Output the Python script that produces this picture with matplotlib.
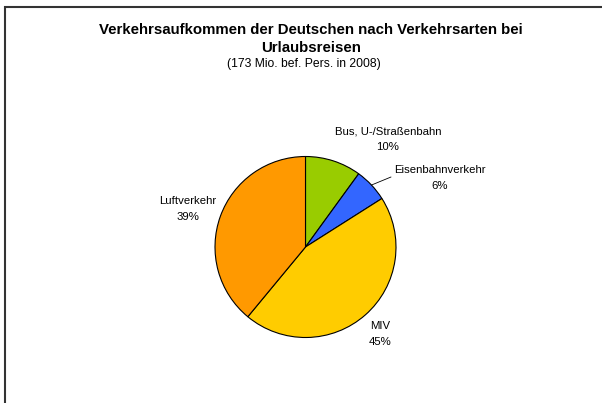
import numpy as np
import matplotlib
matplotlib.use("Agg")
import matplotlib.pyplot as plt
from matplotlib.patches import Rectangle

plt.rcParams['font.family'] = ['Liberation Sans', 'DejaVu Sans']

categories = ["Bus, U-/Straßenbahn", "Eisenbahnverkehr", "MIV", "Luftverkehr"]
values = [10, 6, 45, 39]
colors = ["#99CC00", "#3366FF", "#FFCC00", "#FF9900"]
title = "Verkehrsaufkommen der Deutschen nach Verkehrsarten bei\nUrlaubsreisen"
subtitle = "(173 Mio. bef. Pers. in 2008)"

W, H = 602, 403
fig = plt.figure(figsize=(W/100, H/100), dpi=100)

def fx(x): return x / W
def fy(y): return 1 - y / H

# border
fig.patches.append(Rectangle((fx(5), fy(500)), fx(700), fy(7) - fy(500),
                             transform=fig.transFigure, fill=False,
                             edgecolor="#333333", linewidth=1.5))

# pie axes
cx, cy, r = 305.5, 247, 90.5
ax = fig.add_axes([fx(cx - r), fy(cy + r), fx(2*r), (2*r)/H])
ax.axis('off')
wedges, _ = ax.pie(values, colors=colors, startangle=90, counterclock=False,
                   radius=1.0, wedgeprops=dict(edgecolor='black', linewidth=0.8))
ax.set_xlim(-1, 1); ax.set_ylim(-1, 1)

fig.text(fx(311), fy(39), title, ha='center', va='center', fontsize=10.8,
         fontweight='bold', linespacing=1.3)
fig.text(fx(304), fy(63.5), subtitle, ha='center', va='center', fontsize=8.7)

label_pos = [(388, 139.5), (440, 178), (380, 334), (188, 209)]
for (lx, ly), cat, v in zip(label_pos, categories, values):
    fig.text(fx(lx), fy(ly), f"{cat}\n{v}%", ha='center', va='center',
             fontsize=8.2, linespacing=1.65)

# leader line for Eisenbahnverkehr
w = wedges[1]
ang = np.deg2rad((w.theta1 + w.theta2) / 2)
px, py = np.cos(ang) * 1.0, np.sin(ang) * 1.0
ax.annotate("", xy=(px, py), xycoords='data',
            xytext=(fx(391), fy(177)), textcoords='figure fraction',
            arrowprops=dict(arrowstyle='-', color='black', lw=0.6,
                            shrinkA=0, shrinkB=0), annotation_clip=False)

fig.savefig("out.png", dpi=100)
